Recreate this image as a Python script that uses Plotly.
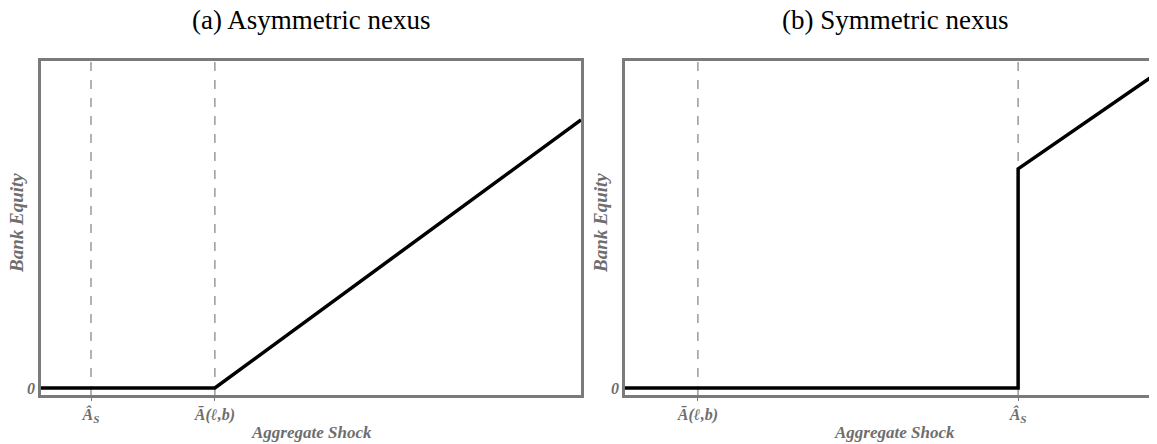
import plotly.graph_objects as go

# Panel (a): asymmetric nexus
a_x = [0.0, 3.22, 10.0]
a_y = [0.0, 0.0, 0.82]
a_vlines = [0.926, 3.22]
a_ticklabels = ["Â<sub>S</sub>", "Ā(ℓ,b)"]

# Panel (b): symmetric nexus
b_x = [0.0, 7.28, 7.28, 10.0]
b_y = [0.0, 0.0, 0.67, 0.98]
b_vlines = [1.35, 7.28]
b_ticklabels = ["Ā(ℓ,b)", "Â<sub>S</sub>"]

titles = ["(a) Asymmetric nexus", "(b) Symmetric nexus"]
xlabel = "Aggregate Shock"
ylabel = "Bank Equity"

GRAY = "#6e6e6e"
FRAME = "#7a7a7a"
SERIF = "Liberation Serif, Times New Roman, serif"

# figure-space geometry (page is offset by the 8px body margin)
L, T, B = 33, 53, 57
W, H = 1157, 444
PW = W - L          # paper width
PH = H - T - B      # plot height

fig = go.Figure()
fig.add_trace(go.Scatter(x=a_x, y=a_y, mode="lines", line=dict(color="black", width=3.5),
                         xaxis="x", yaxis="y", showlegend=False, hoverinfo="skip"))
fig.add_trace(go.Scatter(x=b_x, y=b_y, mode="lines", line=dict(color="black", width=3.5),
                         xaxis="x2", yaxis="y2", showlegend=False, hoverinfo="skip"))

yr = [-0.0214, 1.0]
for xv in a_vlines:
    fig.add_shape(type="line", xref="x", yref="y", x0=xv, x1=xv, y0=yr[0], y1=yr[1],
                  line=dict(color="#8a8a8a", width=1.3, dash="dash"), layer="below")
for xv in b_vlines:
    fig.add_shape(type="line", xref="x2", yref="y2", x0=xv, x1=xv, y0=yr[0], y1=yr[1],
                  line=dict(color="#8a8a8a", width=1.3, dash="dash"), layer="below")

tickfont = dict(family=SERIF, size=16, color=GRAY, weight="bold", style="italic")

def xax(domain, tickvals, ticktext, anchor):
    return dict(domain=domain, range=[0, 10], showgrid=False, zeroline=False,
                showline=True, linecolor=FRAME, linewidth=2.5, mirror=True,
                tickvals=tickvals, ticktext=ticktext, ticks="outside", ticklen=3,
                tickcolor=FRAME, tickfont=tickfont, anchor=anchor)

def yax(anchor):
    return dict(domain=[0, 1], range=yr, showgrid=False, zeroline=False,
                showline=True, linecolor=FRAME, linewidth=2.5, mirror=True,
                tickvals=[0], ticktext=["0"], ticks="", anchor=anchor,
                tickfont=tickfont)

d_a = [0, 540 / PW]
d_b = [(617 - L) / PW, 1.0]

fig.update_layout(
    width=W, height=H,
    margin=dict(l=L, r=0, t=T, b=B, autoexpand=False),
    paper_bgcolor="white", plot_bgcolor="white",
    xaxis=xax(d_a, a_vlines, a_ticklabels, "y"),
    yaxis=yax("x"),
    xaxis2=xax(d_b, b_vlines, b_ticklabels, "y2"),
    yaxis2=yax("x2"),
)

for t, d in zip(titles, [d_a, d_b]):
    cx = d[0] + 270 / PW
    fig.add_annotation(text=t, xref="paper", yref="paper",
                       x=cx, y=1 + (T - 12) / PH, showarrow=False,
                       xanchor="center", yanchor="middle",
                       font=dict(family=SERIF, size=27, color="black"))
    fig.add_annotation(text="<b><i>" + xlabel + "</i></b>", xref="paper", yref="paper",
                       x=cx, y=-(425 - (H - B)) / PH, showarrow=False,
                       xanchor="center", yanchor="middle",
                       font=dict(family=SERIF, size=17, color=GRAY))
    fig.add_annotation(text="<b><i>" + ylabel + "</i></b>", xref="paper", yref="paper",
                       x=d[0] - 25 / PW, y=(H - B - 215) / PH, showarrow=False,
                       xanchor="center", yanchor="middle", textangle=-90,
                       font=dict(family=SERIF, size=19, color=GRAY))

fig.write_html("out.html")
